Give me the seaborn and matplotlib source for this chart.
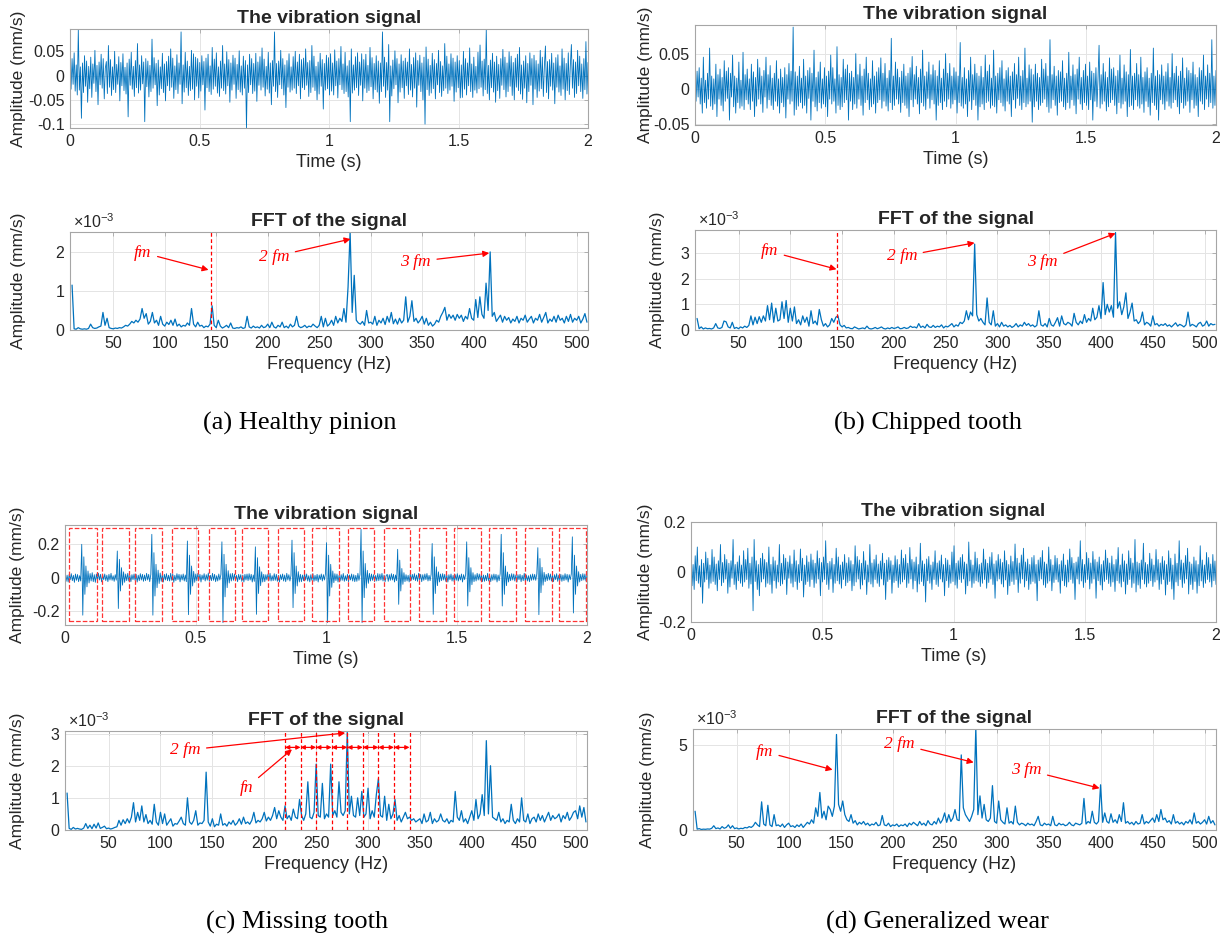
import matplotlib.pyplot as plt
import numpy as np
import seaborn as sns
from matplotlib.patches import Rectangle
from matplotlib.ticker import FuncFormatter

# ---- time signals: 500 samples over 0..2 s, values in 1e-3 mm/s ----
healthy_sig = [
    12, -28, 35, -18, 47, -32, 22, -40, 95, -30, 18, -88, 26, -35, 41, -22, 30, -55, 19, -27, 38, -45, 24, -16, 52,
    -33, 21, -60, 28, -19, 44, -26, 35, -48, 15, 29, -37, 62, -24, 33, -41, 18, -29, 50, -35, 23, -18, 39, -52, 27,
    -21, 45, -31, 17, -38, 26, -85, 34, -20, 48, -28, 19, -43, 31, -25, 66, -36, 22, -30, 41, -17, 28, -95, 35, -23,
    30, -44, 21, -33, 75, -26, 37, -19, 25, -62, 32, -40, 18, -27, 46, -35, 24, -52, 29, -21, 40, -31, 55, -24, 36,
    -47, 20, -29, 43, -37, 26, -18, 90, -58, 22, -34, 48, -25, 30, -41, 19, -31, 52, -28, 45, -50, 38, -22, 35, -46,
    27, -32, 41, -19, 29, -71, 36, -25, 44, -33, 20, -39, 58, -28, 34, -22, 47, -36, 18, -43, 30, -26, 62, -31, 24,
    -38, 49, -21, 33, -55, 26, -30, 42, -18, 36, -47, 23, -29, 51, -34, 20, -40, 40, -26, 31, -110, 22, -35, 44, -19,
    35, -37, 25, -32, 46, -53, 28, -20, 39, -30, 57, -24, 34, -42, 19, -28, 48, -36, 26, -60, 31, -22, 90, -33, 25,
    -45, 30, -19, 52, -27, 35, -40, 22, -66, 31, -24, 45, -34, 18, -30, 39, -26, 50, -37, 28, -21, 44, -48, 33, -25,
    36, -29, 55, -20, 27, -43, 31, -35, 62, -24, 40, -31, 19, -50, 28, -38, 46, -22, 33, -69, 25, -30, 42, -27, 37,
    -40, 45, -32, 26, -40, 53, -21, 30, -46, 35, -19, 60, -29, 24, -37, 48, -33, 20, -44, 31, -95, 55, -36, 22, -30,
    39, -25, 47, -41, 28, -20, 45, -52, 33, -26, 44, -35, 21, -31, 58, -23, 37, -48, 25, -29, 41, -34, 30, -57, 26,
    -33, 90, -22, 38, -45, 27, -30, 64, -95, 20, -42, 32, -27, 51, -19, 35, -56, 24, -34, 43, -25, 30, -47, 36, -21,
    28, -39, 55, -30, 23, -44, 37, -26, 47, -65, 31, -20, 42, -33, 26, -50, 38, -100, 59, -29, 34, -41, 21, -36, 46,
    -27, 33, -48, 25, -19, 52, -35, 29, -43, 20, -31, 66, -26, 40, -37, 24, -30, 45, -22, 36, -53, 28, -34, 41, -25,
    31, -46, 22, -45, 50, -28, 35, -40, 26, -21, 57, -33, 24, -45, 38, -30, 19, -36, 48, -27, 63, -24, 30, -42, 34,
    -29, 95, -37, 21, -50, 32, -25, 46, -34, 28, -55, 40, -31, 23, -47, 35, -20, 54, -29, 38, -44, 26, -33, 49, -22,
    40, -41, 27, -50, 36, -24, 44, -31, 58, -38, 22, -49, 30, -26, 41, -56, 25, -33, 47, -20, 35, -60, 42, -28, 31,
    -45, 24, -32, 52, -27, 38, -43, 21, 61, -35, 29, -48, 33, -22, 46, -30, 26, -58, 37, -24, 43, -34, 20, -41, 55,
    -28, 36, -50, 25, -31, 47, -39, 22, 64, -26, 33, -45, 28, -37, 52, -21, 40, -33, 24, -47, 35, -29, 70, -38, 27,
]
chipped_sig = [
    10, -18, 25, -12, 30, -22, 15, -35, 45, -20, 12, -28, 22, -15, 58, -25, 18, -30, 14, -22, 35, -40, 20, -15, 28,
    -24, 16, -32, 40, -18, 25, -14, 30, -45, 22, -12, 48, -26, 18, -35, 15, -20, 38, -28, 12, -25, 52, -30, 20, -16,
    28, -22, 14, -30, 35, -18, 24, -40, 16, -25, 42, -15, 30, -22, 18, -34, 26, -12, 45, -28, 20, -16, 33, -24, 15,
    -30, 22, -18, 40, -25, 14, -35, 28, -20, 16, -26, 30, -42, 20, -15, 36, -22, 25, -18, 88, -38, 24, -30, 18, -25,
    32, -20, 15, -28, 42, -24, 18, -35, 26, -14, 30, -45, 22, -18, 55, -26, 16, -32, 24, -20, 38, -28, 14, -22, 30,
    -26, 18, -40, 25, -15, 48, -22, 30, -18, 14, -35, 60, -24, 20, -30, 16, -26, 42, -20, 28, -16, 34, -45, 22, -18,
    25, -30, 16, -22, 50, -28, 20, -15, 35, -24, 18, -38, 28, -20, 45, -16, 22, -30, 14, -26, 40, -22, 18, -35, 24,
    -20, 30, -16, 44, -28, 22, -18, 36, -25, 15, -32, 26, -20, 72, -30, 18, -24, 38, -15, 28, -22, 16, -34, 25, -20,
    35, -24, 18, -28, 22, -40, 30, -16, 46, -26, 20, -15, 32, -22, 16, -36, 28, -20, 55, -25, 18, -30, 24, -14, 38,
    -28, 20, -16, 34, -22, 26, -45, 18, -24, 40, -20, 15, -30, 28, -18, 50, -26, 22, -15, 36, -28, 18, -22, 30, -16,
    24, -35, 18, -20, 66, -25, 16, -28, 30, -22, 14, -40, 26, -18, 45, -30, 20, -16, 35, -24, 22, -45, 18, -26, 32,
    -22, 16, -30, 48, -20, 25, -18, 34, -28, 15, -24, 55, -26, 18, -35, 22, -16, 30, -20, 40, -25, 14, -32, 26, -18,
    30, -22, 18, -40, 24, -16, 36, -28, 20, -14, 45, -24, 18, -30, 26, -20, 58, -26, 15, -22, 34, -18, 28, -48, 20,
    -26, 35, -18, 22, -30, 16, -24, 42, -20, 28, -15, 36, -26, 18, -34, 70, -28, 20, -16, 32, -24, 18, -38, 26, -20,
    24, -18, 40, -26, 15, -30, 22, -20, 52, -28, 18, -16, 34, -24, 20, -36, 28, -15, 45, -22, 16, -30, 26, -20, 35,
    -24, 18, -30, 38, -16, 25, -45, 22, -18, 30, -26, 15, 62, -28, 20, -22, 36, -18, 24, -32, 16, -26, 44, -20, 28,
    -16, 30, -24, 18, -36, 26, -20, 48, -28, 15, -22, 34, -18, 24, -40, 20, -26, 56, -24, 18, -30, 22, -16, 36, -25,
    20, -28, 45, -22, 16, -34, 24, -18, 30, -26, 15, -38, 22, -20, 58, -24, 18, -30, 26, -45, 20, -16, 34, -22, 18,
    -30, 24, -18, 36, -25, 16, -28, 50, -20, 22, -16, 32, -26, 18, -36, 25, -20, 44, -28, 15, -24, 30, -18, 26, -34,
    22, -16, 38, -28, 20, -24, 16, -40, 30, -18, 26, -22, 48, -30, 18, -15, 34, -26, 22, -20, 70, -28, 18, -24, 26,
]
missing_sig = [
    18, -22, 15, -26, 20, -12, 24, -18, 14, -28, 22, -16, 19, -24, 12, -20, 200, -225, 125, -100, 70, -55, 40, -32, 25,
    -20, 30, -24, 18, -28, 22, -16, 26, -14, 20, -25, 18, -12, 22, -18, 15, -24, 20, -14, 26, -16, 12, -22, 18, -15,
    160, -185, 110, -80, 60, -45, 35, -28, 22, -18, 26, -20, 14, -24, 18, -12, 22, -16, 20, -26, 15, -18, 24, -14, 20,
    -22, 16, -18, 26, -14, 20, -24, 18, 260, -225, 150, -110, 80, -60, 45, -35, 28, -22, 18, -26, 20, -14, 24, -18, 15,
    -20, 26, -16, 22, -28, 14, -18, 24, -12, 20, -25, 18, -14, 22, -20, 16, -24, 220, -222, 135, -100, 70, -50, 38, -28,
    22, -18, 25, -14, 20, -26, 16, -12, 24, -20, 18, -15, 28, -22, 14, -18, 26, -16, 20, -24, 12, -20, 22, -14, 18,
    215, -270, 140, -115, 80, -60, 42, -32, 24, -20, 26, -16, 22, -18, 14, -24, 20, -12, 18, -22, 16, -26, 20, -14, 22,
    -18, 24, -14, 20, -26, 16, -22, 185, -220, 120, -95, 65, -48, 35, -26, 20, -24, 18, -14, 22, -16, 26, -20, 12, -18,
    24, -16, 20, -22, 14, -26, 18, -12, 22, -20, 16, -24, 26, -14, 18, -20, 12, 225, -180, 150, -95, 70, -50, 36, -26,
    20, -24, 16, -18, 26, -14, 22, -20, 12, -25, 18, -16, 24, -22, 14, -18, 20, -26, 16, -12, 22, -20, 18, -14, 24,
    210, -270, 135, -110, 80, -58, 40, -30, 24, -18, 22, -26, 14, -20, 18, -16, 25, -22, 12, -18, 20, -24, 16, -14, 22,
    -20, 18, -24, 14, -22, 26, -16, 20, 290, -270, 160, -120, 85, -62, 44, -34, 26, -20, 22, -16, 18, -24, 14, -20, 25,
    -18, 22, -14, 26, -20, 16, -24, 12, 20, -22, 18, -16, 24, -14, 20, -26, 16, -18, 170, -160, 105, -80, 55, -40, 30,
    -24, 18, -20, 14, -26, 22, -16, 20, -12, 24, -18, 16, -22, 26, -14, 20, -24, 18, -16, 22, -12, 25, -20, 14, -18,
    20, 205, -220, 125, -95, 65, -48, 35, -26, 22, -18, 24, -14, 20, -22, 16, -26, 18, -12, 22, -20, 14, -24, 18, -16,
    24, -20, 16, -14, 22, -26, 18, -12, 20, 215, -170, 120, -85, 60, -42, 30, -24, 18, -20, 26, -14, 22, -16, 20, -24,
    16, -22, 14, -18, 26, -20, 12, -24, 18, -16, 22, -14, 20, -26, 16, -18, 24, 260, -170, 150, -100, 70, -48, 34, -26,
    20, -18, 24, -14, 22, -20, 16, -26, 18, -12, 20, -24, 14, -18, 26, -22, 16, -20, 12, -24, 18, -16, 22, -14, 20,
    -16, 22, 180, -222, 115, -90, 62, -45, 32, -24, 20, -18, 26, -14, 22, -20, 16, -24, 18, -12, 24, -22, 14, -18, 20,
    -22, 16, -18, 24, -14, 20, -26, 18, -12, 22, 245, -212, 135, -100, 70, -50, 36, -26, 20, -18, 24, -14, 22, -20, 16,
]
wear_sig = [
    40, -55, 30, -70, 65, -35, 100, -45, 25, -60, 50, -125, 35, -40, 80, -30, 55, -65, 28, -45, 90, -38, 60, -50, 32,
    -75, 45, -30, 110, -55, 38, -42, 70, -28, 50, -85, 35, -60, 45, -25, 130, -50, 30, -70, 40, -35, 65, -45, 28, -58,
    85, -40, 50, -30, 95, -65, 35, -48, 60, -155, 130, -38, 45, -70, 30, -95, 55, -40, 75, -28, 50, -60, 38, -45, 100,
    -50, 30, -85, 60, -35, 45, -65, 28, -40, 110, -55, 35, -48, 70, -30, 55, -90, 40, -25, 65, -45, 32, -60, 88, -38,
    45, -70, 30, -42, 92, -35, 55, -100, 28, -50, 65, -38, 40, -58, 72, -30, 48, -62, 35, -45, 85, -28, 55, -95, 38,
    -40, 60, -30, 125, -50, 35, -70, 42, -28, 55, -82, 30, -45, 95, -35, 60, -48, 28, -65, 40, -30, 70, -55, 36, -42,
    58, -35, 45, -75, 30, -55, 105, -40, 62, -28, 48, -68, 35, -52, 82, -30, 45, -90, 28, -40, 110, -48, 36, -60, 50,
    -30, 68, -45, 32, -58, 44, -28, 75, -52, 35, -110, 48, -38, 58, -30, 45, -85, 28, -42, 65, -35, 50, -62, 30, -48,
    88, -40, 55, -30, 70, -62, 35, -45, 98, -28, 50, -68, 40, -35, 60, -80, 30, -48, 115, -38, 45, -55, 32, -120, 52,
    -35, 62, -45, 28, -70, 40, -30, 85, -50, 36, -58, 45, -28, 68, -40, 30, -95, 55, -35, 48, -62, 28, -45, 80, -38,
    105, -52, 35, -65, 45, -30, 58, -42, 70, -28, 40, -88, 32, -55, 120, -36, 48, -62, 28, -45, 80, -35, 55, -40, 30,
    -58, 36, -45, 92, -30, 50, -65, 35, -42, 60, -28, 78, -50, 32, -105, 45, -36, 70, -28, 52, -48, 38, -60, 85, -32,
    46, -90, 30, -55, 64, -38, 42, -50, 112, -30, 55, -82, 36, -45, 68, -28, 95, -60, 40, -35, 52, -70, 30, -48, 58,
    -38, 66, -45, 30, -115, 48, -35, 58, -28, 86, -52, 40, -62, 32, -45, 100, -36, 50, -75, 28, -42, 66, -30, 55, -40,
    30, -85, 45, -35, 72, -55, 28, -60, 48, -40, 92, -30, 58, -45, 35, -110, 40, -28, 60, -48, 125, -36, 50, -62, 30,
    -42, 78, -30, 55, -68, 36, -45, 82, -28, 50, -105, 40, -35, 60, -52, 30, -72, 45, -38, 88, -30, 55, -46, 36, -58,
    64, -40, 30, -78, 50, -35, 98, -45, 28, -60, 72, -38, 45, -88, 32, -50, 85, -30, 55, -62, 36, -45, 130, -80, 40,
    -52, 35, -66, 48, -30, 115, -48, 38, -60, 30, -45, 75, -35, 52, -58, 28, -40, 90, -32, 50, -70, 36, -48, 62, -30,
    45, -92, 30, -50, 85, -38, 55, -68, 28, -110, 72, -40, 35, -55, 125, -30, 48, -62, 36, -45, 66, -28, 95, -88, 40,
    -50, 32, -70, 60, -38, 45, -85, 30, -55, 105, -36, 48, -62, 28, -45, 78, -30, 58, -40, 32, -60, 70, -35, 44, -50,
]

# ---- spectra: one value per 2 Hz bin starting at 10 Hz, in 1e-3 mm/s ----
healthy_fft = [
    1.15, 0.03, 0.02, 0.06, 0.03, 0.02, 0.03, 0.02, 0.04, 0.15, 0.06, 0.04, 0.05, 0.08, 0.10,
    0.45, 0.12, 0.30, 0.06, 0.04, 0.03, 0.05, 0.04, 0.06, 0.05, 0.08, 0.12, 0.10, 0.15, 0.22,
    0.18, 0.25, 0.20, 0.28, 0.55, 0.30, 0.42, 0.15, 0.22, 0.45, 0.18, 0.25, 0.12, 0.35, 0.15,
    0.10, 0.20, 0.14, 0.25, 0.12, 0.28, 0.10, 0.15, 0.08, 0.12, 0.10, 0.18, 0.12, 0.55, 0.15,
    0.08, 0.20, 0.10, 0.12, 0.06, 0.10, 0.08, 0.15, 0.62, 0.12, 0.06, 0.25, 0.10, 0.05, 0.08,
    0.12, 0.06, 0.18, 0.05, 0.04, 0.06, 0.05, 0.08, 0.04, 0.06, 0.35, 0.08, 0.05, 0.10, 0.06,
    0.08, 0.05, 0.12, 0.06, 0.08, 0.15, 0.06, 0.20, 0.08, 0.05, 0.12, 0.08, 0.20, 0.06, 0.10,
    0.05, 0.15, 0.08, 0.12, 0.35, 0.10, 0.06, 0.08, 0.12, 0.06, 0.10, 0.08, 0.15, 0.10, 0.06,
    0.12, 0.35, 0.08, 0.30, 0.10, 0.15, 0.25, 0.12, 0.35, 0.18, 0.30, 0.22, 0.55, 0.20, 1.10,
    2.52, 0.45, 1.40, 0.25, 0.18, 0.15, 0.22, 0.12, 0.50, 0.18, 0.20, 0.15, 0.35, 0.12, 0.25,
    0.18, 0.30, 0.14, 0.35, 0.20, 0.45, 0.16, 0.28, 0.15, 0.30, 0.18, 0.25, 0.85, 0.20, 0.35,
    0.75, 0.22, 0.30, 0.18, 0.25, 0.35, 0.15, 0.30, 0.12, 0.20, 0.10, 0.15, 0.25, 0.20, 0.35,
    0.45, 0.58, 0.25, 0.40, 0.30, 0.38, 0.25, 0.40, 0.30, 0.38, 0.22, 0.35, 0.28, 0.55, 0.30,
    0.25, 0.78, 0.32, 0.85, 0.40, 0.30, 1.20, 0.50, 2.00, 0.35, 0.45, 0.22, 0.30, 0.38, 0.20,
    0.35, 0.25, 0.32, 0.18, 0.28, 0.22, 0.35, 0.18, 0.30, 0.25, 0.38, 0.20, 0.28, 0.35, 0.18,
    0.30, 0.25, 0.40, 0.20, 0.32, 0.45, 0.18, 0.28, 0.22, 0.35, 0.20, 0.38, 0.25, 0.30, 0.18,
    0.35, 0.22, 0.40, 0.20, 0.30, 0.25, 0.35, 0.18, 0.28, 0.42, 0.20,
]
chipped_fft = [
    0.45, 0.05, 0.12, 0.04, 0.08, 0.05, 0.06, 0.04, 0.08, 0.25, 0.08, 0.06, 0.10, 0.35, 0.32,
    0.12, 0.08, 0.30, 0.06, 0.10, 0.05, 0.12, 0.08, 0.15, 0.10, 0.18, 0.55, 0.20, 0.50, 0.25,
    0.52, 0.30, 0.55, 0.35, 0.95, 0.40, 1.05, 0.30, 0.85, 0.35, 0.40, 1.10, 0.45, 1.15, 0.30,
    0.85, 0.35, 0.90, 0.25, 0.40, 0.20, 0.55, 0.30, 0.50, 0.15, 0.75, 0.25, 0.35, 0.20, 0.80,
    0.40, 0.15, 0.25, 0.12, 0.20, 0.45, 0.30, 0.50, 0.55, 0.20, 0.12, 0.18, 0.08, 0.10, 0.06,
    0.05, 0.12, 0.08, 0.04, 0.06, 0.08, 0.05, 0.15, 0.06, 0.04, 0.06, 0.10, 0.05, 0.08, 0.12,
    0.06, 0.04, 0.08, 0.05, 0.10, 0.06, 0.08, 0.12, 0.05, 0.06, 0.10, 0.06, 0.08, 0.15, 0.10,
    0.12, 0.08, 0.25, 0.10, 0.15, 0.08, 0.22, 0.12, 0.10, 0.18, 0.10, 0.15, 0.12, 0.20, 0.08,
    0.15, 0.12, 0.18, 0.25, 0.12, 0.20, 0.15, 0.30, 0.25, 0.35, 0.75, 0.40, 0.70, 0.55, 3.35,
    0.60, 0.35, 0.45, 0.30, 0.20, 1.25, 0.30, 0.20, 0.75, 0.15, 0.25, 0.12, 0.30, 0.15, 0.20,
    0.12, 0.18, 0.10, 0.15, 0.25, 0.12, 0.20, 0.15, 0.30, 0.18, 0.25, 0.15, 0.20, 0.12, 0.18,
    0.75, 0.20, 0.15, 0.25, 0.12, 0.45, 0.20, 0.15, 0.30, 0.48, 0.15, 0.55, 0.25, 0.20, 0.30,
    0.25, 0.15, 0.65, 0.30, 0.20, 0.35, 0.25, 0.60, 0.30, 0.45, 0.35, 0.85, 0.40, 0.50, 0.95,
    0.45, 1.85, 0.60, 1.00, 0.70, 0.95, 0.50, 3.80, 0.85, 1.10, 0.60, 0.90, 1.45, 0.45, 0.70,
    1.05, 0.35, 0.40, 0.25, 0.35, 0.70, 0.20, 0.30, 0.25, 0.15, 0.55, 0.20, 0.25, 0.15, 0.22,
    0.18, 0.25, 0.15, 0.20, 0.12, 0.20, 0.28, 0.15, 0.22, 0.18, 0.12, 0.20, 0.70, 0.15, 0.22,
    0.18, 0.12, 0.25, 0.30, 0.15, 0.20, 0.35, 0.15, 0.25, 0.20, 0.22,
]
missing_fft = [
    1.15, 0.05, 0.02, 0.08, 0.03, 0.05, 0.03, 0.02, 0.06, 0.20, 0.05, 0.15, 0.04, 0.18, 0.06,
    0.22, 0.05, 0.08, 0.12, 0.04, 0.06, 0.03, 0.05, 0.08, 0.10, 0.30, 0.15, 0.32, 0.20, 0.35,
    0.22, 0.40, 0.85, 0.25, 0.55, 0.30, 0.75, 0.25, 0.48, 0.20, 0.30, 0.18, 0.80, 0.25, 0.15,
    0.55, 0.20, 0.50, 0.15, 0.25, 0.35, 0.12, 0.20, 0.18, 0.28, 0.40, 0.20, 0.15, 1.00, 0.25,
    0.18, 0.30, 0.60, 0.15, 0.22, 0.20, 0.30, 1.80, 0.25, 0.12, 0.35, 0.10, 0.18, 0.15, 0.50,
    0.15, 0.20, 0.12, 0.25, 0.18, 0.30, 0.15, 0.22, 0.35, 0.18, 0.40, 0.20, 0.25, 0.18, 0.30,
    0.55, 0.22, 0.30, 0.25, 0.35, 0.55, 0.28, 0.40, 0.30, 0.45, 0.70, 0.35, 0.60, 0.40, 0.30,
    0.75, 0.35, 0.45, 0.30, 0.65, 0.40, 0.35, 0.95, 0.45, 0.30, 0.50, 1.50, 0.40, 0.35, 0.55,
    2.05, 0.45, 0.40, 1.45, 0.35, 0.50, 0.40, 2.05, 0.45, 0.60, 0.40, 1.50, 0.55, 0.45, 0.60,
    3.08, 0.50, 1.05, 0.45, 0.40, 1.00, 0.45, 1.20, 0.40, 0.50, 1.30, 0.35, 0.60, 0.40, 1.10,
    1.60, 0.45, 0.40, 1.05, 0.30, 0.80, 0.35, 0.50, 0.95, 0.30, 0.45, 0.25, 0.40, 0.55, 0.35,
    0.40, 0.30, 0.35, 0.25, 0.30, 0.35, 0.20, 0.50, 0.25, 0.30, 0.55, 0.20, 0.35, 0.25, 0.30,
    0.50, 0.30, 0.25, 0.35, 0.20, 0.30, 0.25, 1.20, 0.40, 0.30, 0.60, 0.25, 0.35, 0.20, 0.40,
    0.60, 0.30, 0.95, 0.35, 0.50, 1.10, 0.45, 2.78, 0.50, 2.00, 0.40, 0.35, 0.30, 0.55, 0.25,
    0.35, 0.20, 0.30, 0.25, 0.80, 0.30, 0.20, 0.35, 0.25, 1.00, 0.30, 0.25, 0.50, 0.20, 0.35,
    0.40, 0.25, 0.50, 0.30, 0.45, 0.25, 0.40, 0.55, 0.30, 0.45, 0.35, 0.40, 0.50, 0.25, 0.45,
    0.35, 0.55, 0.30, 0.40, 0.55, 0.60, 0.35, 0.75, 0.40, 0.70, 0.25,
]
wear_fft = [
    1.10, 0.05, 0.08, 0.03, 0.05, 0.04, 0.06, 0.05, 0.10, 0.25, 0.08, 0.12, 0.06, 0.20, 0.10,
    0.15, 0.30, 0.10, 0.25, 0.08, 0.12, 0.06, 0.10, 0.08, 0.15, 0.12, 0.20, 0.15, 0.25, 0.45,
    0.30, 0.20, 1.65, 0.35, 0.25, 1.45, 0.30, 0.20, 0.90, 0.25, 0.30, 0.20, 0.35, 0.15, 0.30,
    0.40, 0.20, 0.25, 0.15, 0.30, 0.20, 0.35, 0.15, 0.30, 0.45, 0.35, 0.60, 0.40, 1.30, 0.80,
    2.20, 0.70, 1.10, 0.60, 1.40, 1.20, 0.80, 1.40, 5.60, 1.50, 1.10, 1.70, 0.90, 0.60, 0.50,
    0.90, 0.40, 0.55, 0.30, 0.45, 0.35, 0.50, 0.30, 0.40, 0.25, 0.35, 0.30, 0.45, 0.25, 0.30,
    0.85, 0.30, 0.25, 0.40, 0.20, 0.30, 0.25, 0.35, 0.20, 0.30, 0.25, 0.35, 0.20, 0.40, 0.30,
    0.45, 0.35, 0.25, 0.50, 0.30, 0.40, 0.25, 0.55, 0.35, 0.30, 0.50, 0.35, 0.70, 0.40, 0.60,
    1.00, 0.45, 0.90, 0.50, 0.70, 1.20, 0.60, 0.55, 4.40, 1.30, 0.90, 0.70, 0.50, 0.80, 1.20,
    6.00, 0.90, 2.00, 0.70, 1.50, 0.60, 0.50, 0.70, 2.60, 0.50, 0.40, 1.70, 0.60, 0.45, 0.35,
    1.30, 0.40, 0.50, 0.35, 1.40, 0.45, 0.30, 0.40, 0.35, 0.25, 0.40, 0.30, 0.35, 0.25, 0.50,
    0.80, 0.30, 0.25, 0.40, 0.30, 0.35, 0.25, 0.80, 0.30, 0.25, 0.40, 0.30, 0.35, 0.25, 0.30,
    0.45, 0.30, 0.25, 0.40, 0.35, 0.30, 0.40, 1.85, 0.35, 0.50, 0.40, 1.10, 0.45, 0.35, 0.50,
    2.65, 0.45, 1.00, 0.50, 0.40, 0.95, 0.45, 0.60, 0.40, 0.90, 0.50, 1.60, 0.40, 0.50, 0.35,
    0.45, 0.30, 0.50, 0.35, 0.40, 0.90, 0.35, 0.50, 0.40, 0.55, 0.70, 0.45, 0.90, 0.50, 1.20,
    0.60, 0.70, 0.45, 0.55, 0.35, 0.90, 0.40, 0.50, 0.35, 0.45, 0.30, 0.50, 0.40, 0.60, 0.35,
    1.00, 0.40, 0.50, 0.35, 0.45, 0.60, 0.35, 0.80, 0.40, 0.55, 0.30,
]

# impact windows drawn on the missing-tooth signal (s), and their height (mm/s)
window_start = [0.015, 0.143, 0.268, 0.41, 0.55, 0.677, 0.815, 0.948, 1.085, 1.221, 1.357, 1.492, 1.626, 1.762, 1.894]
window_end = [0.121, 0.246, 0.371, 0.51, 0.65, 0.778, 0.915, 1.048, 1.185, 1.32, 1.46, 1.592, 1.728, 1.865, 1.997]
window_low, window_high = -0.26, 0.30

gear_mesh_hz = 145
fn_lines_hz = [220, 235, 250, 265, 280, 295, 310, 325, 340]
fn_arrow_level = 2.57

BLUE = "#0072BD"
BOX = "#a6a6a6"
TXT = "#262626"
W, H = 1231, 943

sns.set_style("white")
plt.rcParams["font.family"] = ["Liberation Sans", "DejaVu Sans"]
plt.rcParams["axes.unicode_minus"] = False
plt.rcParams["mathtext.fontset"] = "custom"
plt.rcParams["mathtext.rm"] = "Liberation Sans"

fig = plt.figure(figsize=(W / 100, H / 100), dpi=100)
fmt = FuncFormatter(lambda v, p: f"{round(v, 6):g}")


def add_ax(box):
    x0, y0, x1, y1 = box
    return fig.add_axes([x0 / W, 1 - y1 / H, (x1 - x0) / W, (y1 - y0) / H])


def style(ax, grid, ylab_px, box):
    for s in ax.spines.values():
        s.set_color(BOX)
        s.set_linewidth(0.8)
    ax.tick_params(direction="in", length=3, width=0.6, color=BOX, labelcolor=TXT,
                   labelsize=11.5, top=True, right=True, pad=4)
    ax.grid(grid, color="#e4e4e4", linewidth=0.7)
    ax.set_axisbelow(True)
    ax.xaxis.set_major_formatter(fmt)
    ax.yaxis.set_major_formatter(fmt)
    ax.set_ylabel("Amplitude (mm/s)", fontsize=12.5, color=TXT)
    ax.yaxis.set_label_coords((ylab_px + 8 - box[0]) / (box[2] - box[0]), 0.5)


def time_panel(box, sig, ylim, yticks, ylab_px):
    ax = add_ax(box)
    t = np.linspace(0, 2, len(sig))
    sns.lineplot(x=t, y=np.array(sig) / 1000, ax=ax, color=BLUE, linewidth=0.6)
    ax.set_xlim(0, 2)
    ax.set_ylim(*ylim)
    ax.set_xticks([0, 0.5, 1, 1.5, 2])
    ax.set_yticks(yticks)
    style(ax, False, ylab_px, box)
    ax.set_title("The vibration signal", fontsize=14, fontweight="bold", pad=4)
    ax.set_xlabel("Time (s)", fontsize=13, color=TXT, labelpad=4)
    return ax


def fft_panel(box, amp, ymax, yticks, ylab_px):
    ax = add_ax(box)
    f = 10 + 2 * np.arange(len(amp))
    sns.lineplot(x=f, y=amp, ax=ax, color=BLUE, linewidth=0.9)
    ax.set_xlim(8, 511)
    ax.set_ylim(0, ymax)
    ax.set_xticks(range(50, 501, 50))
    ax.set_yticks(yticks)
    style(ax, True, ylab_px, box)
    ax.set_title("FFT of the signal", fontsize=14, fontweight="bold", pad=4)
    ax.set_xlabel("Frequency (Hz)", fontsize=13, color=TXT, labelpad=4)
    ax.text(0.005, 1.01, r"×10$^{-3}$", transform=ax.transAxes, fontsize=11.5,
            color=TXT, ha="left", va="bottom")
    return ax


def note(ax, label, text_xy, head_xy):
    ax.annotate(label, xy=head_xy, xytext=text_xy, color="red", fontsize=12.5,
                family="Liberation Serif", style="italic", ha="center", va="center",
                arrowprops=dict(arrowstyle="-|>", color="red", lw=0.9,
                                mutation_scale=9, shrinkA=2, shrinkB=0))


# (a) healthy pinion
time_panel((70, 29, 588, 128), healthy_sig, (-0.108, 0.096), [-0.1, -0.05, 0, 0.05], 18)
ax = fft_panel((70, 232, 588, 330), healthy_fft, 2.51, [0, 1, 2], 18)
ax.axvline(gear_mesh_hz, color="red", ls="--", lw=0.9, dashes=(3, 2))
note(ax, "fm", (78.8, 1.98), (142.5, 1.54))
note(ax, "2 fm", (206.2, 1.88), (280.4, 2.33))
note(ax, "3 fm", (343.7, 1.75), (415.1, 1.97))

# (b) chipped tooth
time_panel((695, 25, 1216, 125), chipped_sig, (-0.052, 0.091), [-0.05, 0, 0.05], 645)
ax = fft_panel((695, 230, 1216, 330), chipped_fft, 3.9, [0, 1, 2, 3], 657)
ax.axvline(gear_mesh_hz, color="red", ls="--", lw=0.9, dashes=(3, 2))
note(ax, "fm", (80, 3.07), (144.6, 2.37))
note(ax, "2 fm", (207.8, 2.87), (277.9, 3.40))
note(ax, "3 fm", (343.6, 2.67), (414, 3.77))

# (c) missing tooth
ax = time_panel((65, 525, 587, 625), missing_sig, (-0.284, 0.316), [-0.2, 0, 0.2], 17)
for s0, s1 in zip(window_start, window_end):
    ax.add_patch(Rectangle((s0, window_low), s1 - s0, window_high - window_low, fill=False,
                           ec="#ff3333", ls="--", lw=0.9, zorder=3))
ax = fft_panel((65, 731, 587, 830), missing_fft, 3.08, [0, 1, 2, 3], 17)
for x in fn_lines_hz:
    ax.axvline(x, color="red", ls="--", lw=0.9, dashes=(3, 2))
for x0, x1 in zip(fn_lines_hz[:-1], fn_lines_hz[1:]):
    ax.annotate("", xy=(x1, fn_arrow_level), xytext=(x0, fn_arrow_level),
                arrowprops=dict(arrowstyle="<|-|>", color="red", lw=0.9,
                                mutation_scale=6, shrinkA=0, shrinkB=0))
note(ax, "2 fm", (123.9, 2.48), (278, 3.02))
note(ax, "fn", (182.7, 1.31), (226.7, 2.51))

# (d) generalized wear
time_panel((691, 522, 1216, 622), wear_sig, (-0.2, 0.2), [-0.2, 0, 0.2], 645)
ax = fft_panel((693, 729, 1216, 830), wear_fft, 5.92, [0, 5], 647)
note(ax, "fm", (76.6, 4.6), (142.2, 3.53))
note(ax, "2 fm", (206.7, 5.04), (277.9, 3.96))
note(ax, "3 fm", (328.5, 3.53), (399, 2.45))

captions = ["(a) Healthy pinion", "(b) Chipped tooth", "(c) Missing tooth", "(d) Generalized wear"]
for cap, (cx, cy) in zip(captions, [(300, 423), (928, 423), (297, 922), (937, 922)]):
    fig.text(cx / W, 1 - cy / H, cap, ha="center", va="center", fontsize=19,
             family="Liberation Serif", color="black")

fig.savefig("out.png", dpi=100)
